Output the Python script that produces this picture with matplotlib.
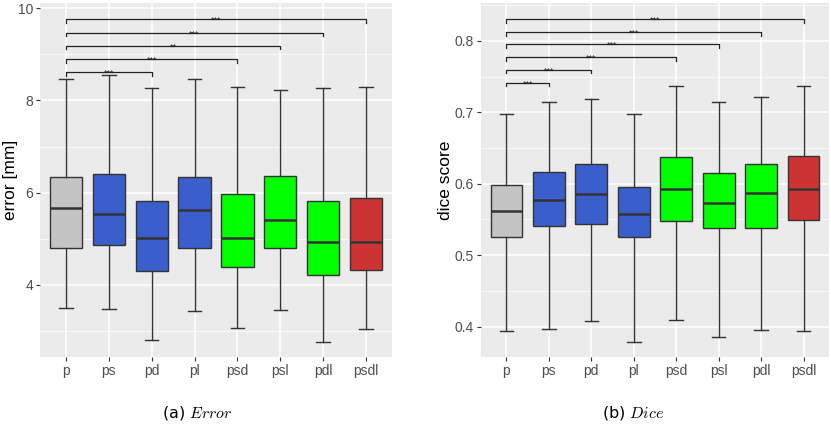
import matplotlib
matplotlib.use("Agg")
import matplotlib.pyplot as plt

plt.rcParams['font.family'] = ['Liberation Sans', 'DejaVu Sans']
plt.rcParams['mathtext.fontset'] = 'cm'

# 資料
groups = ['p', 'ps', 'pd', 'pl', 'psd', 'psl', 'pdl', 'psdl']
colors = ['#C4C4C4', '#3A5FCD', '#3A5FCD', '#3A5FCD',
          '#00FF00', '#00FF00', '#00FF00', '#CD3333']

err_whislo = [3.49, 3.47, 2.80, 3.44, 3.06, 3.46, 2.76, 3.04]
err_q1 = [4.80, 4.86, 4.31, 4.80, 4.39, 4.80, 4.22, 4.33]
err_med = [5.67, 5.53, 5.01, 5.63, 5.01, 5.40, 4.92, 4.92]
err_q3 = [6.34, 6.40, 5.82, 6.35, 5.97, 6.36, 5.82, 5.88]
err_whishi = [8.47, 8.56, 8.27, 8.47, 8.30, 8.23, 8.27, 8.30]

# 顯著性標記 (比較對象, 高度, 星號)
err_pairs = ['pd', 'psd', 'psl', 'pdl', 'psdl']
err_levels = [8.61, 8.89, 9.19, 9.47, 9.76]
err_stars = ['***', '***', '**', '***', '***']

dice_whislo = [0.394, 0.397, 0.408, 0.379, 0.409, 0.386, 0.395, 0.394]
dice_q1 = [0.525, 0.541, 0.544, 0.526, 0.548, 0.538, 0.538, 0.549]
dice_med = [0.562, 0.577, 0.586, 0.558, 0.593, 0.573, 0.587, 0.593]
dice_q3 = [0.598, 0.616, 0.628, 0.596, 0.637, 0.615, 0.627, 0.639]
dice_whishi = [0.697, 0.715, 0.718, 0.697, 0.737, 0.715, 0.721, 0.737]

dice_pairs = ['ps', 'pd', 'psd', 'psl', 'pdl', 'psdl']
dice_levels = [0.741, 0.759, 0.777, 0.795, 0.812, 0.830]
dice_stars = ['***', '***', '***', '***', '***', '***']


def draw_panel(ax, lo, q1, med, q3, hi, pairs, levels, stars, drop,
               ylim, major, minor, ylabel, label_x):
    stats = []
    for i, g in enumerate(groups):
        stats.append(dict(label=g, whislo=lo[i], q1=q1[i], med=med[i],
                          q3=q3[i], whishi=hi[i], fliers=[]))
    pos = list(range(len(groups)))
    bp = ax.bxp(stats, positions=pos, widths=0.75, capwidths=0.32,
                patch_artist=True, showfliers=False,
                boxprops=dict(edgecolor='#333333', linewidth=1.0),
                medianprops=dict(color='#333333', linewidth=1.8),
                whiskerprops=dict(color='#333333', linewidth=1.0),
                capprops=dict(color='#333333', linewidth=1.0))
    for patch, c in zip(bp['boxes'], colors):
        patch.set_facecolor(c)

    for g, lev, s in zip(pairs, levels, stars):
        x1 = groups.index(g)
        ax.plot([0, 0, x1, x1], [lev - drop, lev, lev, lev - drop],
                color='#222222', linewidth=0.9, zorder=3)
        ax.annotate(s, ((0 + x1) / 2, lev), xytext=(0, -2.6),
                    textcoords='offset points', ha='center', va='baseline',
                    fontsize=6.5, color='#222222')

    ax.set_facecolor('#EBEBEB')
    for sp in ax.spines.values():
        sp.set_visible(False)
    ax.set_xlim(-0.6, len(groups) - 0.4)
    ax.set_ylim(*ylim)
    ax.set_yticks(major)
    ax.set_yticks(minor, minor=True)
    ax.set_xticks(pos)
    ax.set_xticklabels(groups)
    ax.grid(True, which='major', color='white', linewidth=1.1)
    ax.grid(True, which='minor', axis='y', color='white', linewidth=0.5)
    ax.set_axisbelow(True)
    ax.tick_params(axis='both', which='major', length=3, width=0.8,
                   color='#333333', labelcolor='#4D4D4D', labelsize=10,
                   pad=2)
    ax.tick_params(axis='y', which='minor', length=0)
    ax.set_ylabel(ylabel, fontsize=12.5, color='black')
    ax.yaxis.set_label_coords(label_x, 0.5)


fig = plt.figure(figsize=(8.31, 4.25), dpi=100)
ax1 = fig.add_axes([40 / 831, 68 / 425, 352 / 831, 354 / 425])
ax2 = fig.add_axes([481 / 831, 68 / 425, 348 / 831, 354 / 425])

draw_panel(ax1, err_whislo, err_q1, err_med, err_q3, err_whishi,
           err_pairs, err_levels, err_stars, 0.07,
           (2.435, 10.115), [4, 6, 8, 10], [3, 5, 7, 9], 'error [mm]',
           -0.062)
draw_panel(ax2, dice_whislo, dice_q1, dice_med, dice_q3, dice_whishi,
           dice_pairs, dice_levels, dice_stars, 0.0046,
           (0.3574, 0.853), [0.4, 0.5, 0.6, 0.7, 0.8],
           [0.45, 0.55, 0.65, 0.75, 0.85], 'dice score', -0.08)
ax2.set_yticklabels(['0.4', '0.5', '0.6', '0.7', '0.8'])

fig.text(197 / 831, 12 / 425, r'(a) $Error$', ha='center', va='center',
         fontsize=11.5, family='DejaVu Sans')
fig.text(633 / 831, 12 / 425, r'(b) $Dice$', ha='center', va='center',
         fontsize=11.5, family='DejaVu Sans')

fig.savefig('out.png', dpi=100)
